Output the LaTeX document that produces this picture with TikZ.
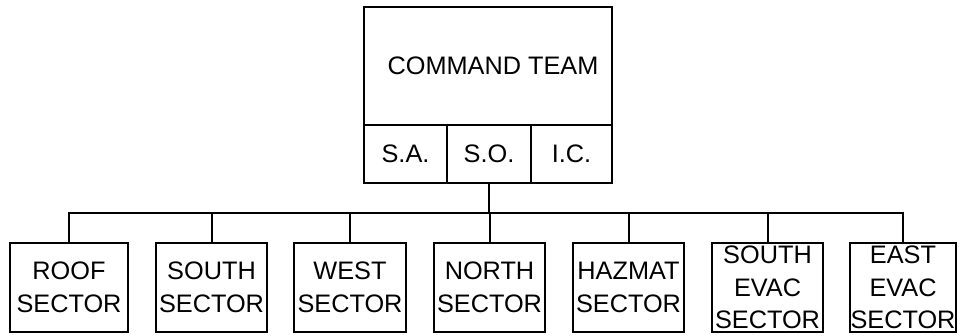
\documentclass[tikz,border=0pt]{standalone}
\usepackage{fontspec}
\setmainfont{Liberation Sans}
\usetikzlibrary{positioning}

\begin{document}
\begin{tikzpicture}[x=1pt, y=-1pt,
        box/.style={draw, line width=1.8pt, inner sep=0pt, align=center,
            font=\fontsize{25.3}{32.5}\selectfont},
        sector/.style={box, minimum width=111pt, minimum height=89pt},
        role/.style={box, minimum height=58pt},
        link/.style={line width=2pt}
    ]
      \useasboundingbox (0,0) rectangle (966,335);
      % Command team and its three roles
      \node[box, minimum width=248pt, minimum height=118pt] (command) at (488,66) {\hspace{10pt}COMMAND TEAM};
      \node[role, minimum width=83pt] (sa) at (405.5,154) {S.A.};
      \node[role, minimum width=84pt] (so) at (489,154) {S.O.};
      \node[role, minimum width=81pt] (ic) at (571.5,154) {I.C.};
      % Sectors
      \node[sector, minimum width=118pt] (roof) at (69,287.5) {ROOF\\SECTOR};
      \node[sector] (south) at (211.5,287.5) {SOUTH\\SECTOR};
      \node[sector, minimum width=112pt] (west) at (350,287.5) {WEST\\SECTOR};
      \node[sector] (north) at (489.5,287.5) {NORTH\\SECTOR};
      \node[sector] (hazmat) at (628.5,287.5) {HAZMAT\\SECTOR};
      \node[sector] (southevac) at (767.5,287.5) {SOUTH\\EVAC\\SECTOR};
      \node[sector, minimum width=106pt] (eastevac) at (903,287.5) {EAST\\EVAC\\SECTOR};
      % Connectors
      \coordinate (bus) at (489,213);
      \draw[link] (so.south) -- (bus);
      \draw[link, line width=2.4pt] (roof.north) |- (bus) -| (eastevac.north);
      \foreach \s in {south, west, north, hazmat, southevac}
        \draw[link] (\s.north) -- (\s.north |- bus);
    \end{tikzpicture}
\end{document}
